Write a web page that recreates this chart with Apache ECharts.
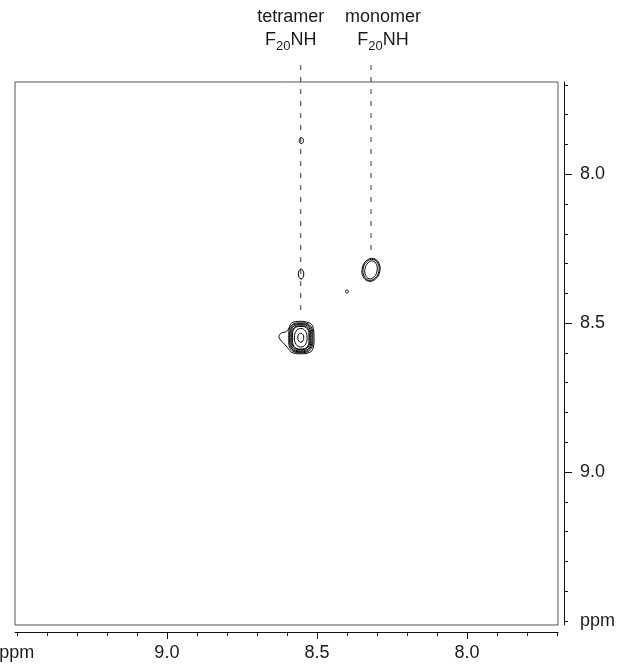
<!DOCTYPE html>
<html>
<head>
<meta charset="utf-8">
<script src="https://cdn.jsdelivr.net/npm/echarts@6/dist/echarts.min.js"></script>
<style>
  html, body { margin: 0; padding: 0; background: #fff; }
  #chart { width: 625px; height: 668px; }
</style>
</head>
<body>
<div id="chart"></div>
<script>
// Axis ranges (ppm); both axes run downfield-to-upfield
const xRange = [7.697, 9.506];
const yRange = [7.690, 9.514];

// Tick positions (ppm)
const majorTicks = [8.0, 8.5, 9.0];
const minorTicks = [7.7, 7.8, 7.9, 8.0, 8.1, 8.2, 8.3, 8.4, 8.5, 8.6, 8.7, 8.8, 8.9, 9.0, 9.1, 9.2, 9.3, 9.4, 9.5];
const tickLabels = [8.0, 8.5, 9.0, 9.5];
const unitTick = 9.5;
const unitText = 'ppm';

// Contour rings of the tetramer cross peak, outermost first: [F2 ppm, F1 ppm]
const tetramerRings = [
  [[8.585, 8.500], [8.557, 8.494], [8.530, 8.498], [8.515, 8.509], [8.510, 8.545], [8.513, 8.584],
   [8.524, 8.598], [8.557, 8.603], [8.585, 8.598], [8.593, 8.589], [8.607, 8.572], [8.624, 8.553],
   [8.626, 8.542], [8.618, 8.533], [8.602, 8.528], [8.593, 8.516]],
  [[8.514, 8.549], [8.522, 8.589], [8.554, 8.599], [8.586, 8.589], [8.594, 8.549], [8.586, 8.509], [8.554, 8.499], [8.522, 8.509]],
  [[8.517, 8.549], [8.525, 8.587], [8.554, 8.596], [8.583, 8.587], [8.591, 8.549], [8.583, 8.511], [8.554, 8.502], [8.525, 8.511]],
  [[8.521, 8.549], [8.527, 8.584], [8.554, 8.593], [8.581, 8.584], [8.587, 8.549], [8.581, 8.514], [8.554, 8.505], [8.527, 8.514]],
  [[8.524, 8.549], [8.530, 8.581], [8.554, 8.589], [8.578, 8.581], [8.584, 8.549], [8.578, 8.517], [8.554, 8.509], [8.530, 8.517]],
  [[8.527, 8.549], [8.532, 8.579], [8.554, 8.587], [8.576, 8.579], [8.581, 8.549], [8.576, 8.519], [8.554, 8.511], [8.532, 8.519]],
  [[8.533, 8.549], [8.539, 8.572], [8.554, 8.580], [8.569, 8.572], [8.575, 8.549], [8.569, 8.526], [8.554, 8.518], [8.539, 8.526]],
  [[8.544, 8.549], [8.547, 8.560], [8.554, 8.564], [8.561, 8.560], [8.564, 8.549], [8.561, 8.538], [8.554, 8.534], [8.547, 8.538]]
];

// Contour rings of the monomer cross peak
const monomerRings = [
  [[8.291, 8.327], [8.305, 8.352], [8.328, 8.359], [8.346, 8.344], [8.349, 8.315], [8.335, 8.290], [8.312, 8.283], [8.294, 8.298]],
  [[8.294, 8.3265], [8.307, 8.349], [8.3275, 8.356], [8.343, 8.342], [8.346, 8.3155], [8.333, 8.293], [8.3125, 8.286], [8.297, 8.300]],
  [[8.300, 8.325], [8.3106, 8.345], [8.326, 8.351], [8.338, 8.339], [8.340, 8.317], [8.3294, 8.297], [8.314, 8.291], [8.302, 8.303]]
];

// Weak cross peaks
const weakPeakRings = [
  [[8.545, 7.887], [8.547, 7.894], [8.552, 7.897], [8.557, 7.894], [8.559, 7.887], [8.557, 7.880], [8.552, 7.877], [8.547, 7.880]],
  [[8.544, 8.335], [8.547, 8.347], [8.553, 8.352], [8.559, 8.347], [8.562, 8.335], [8.559, 8.323], [8.553, 8.318], [8.547, 8.323]],
  [[8.395, 8.394], [8.3965, 8.3975], [8.400, 8.399], [8.4035, 8.3975], [8.405, 8.394], [8.4035, 8.3905], [8.400, 8.389], [8.3965, 8.3905]]
];

// Assignment guides: F2 position, upper end (above the frame) and lower end
const guideX = [8.554, 8.320];
const guideTop = 7.633;
const guideBottom = [8.478, 8.262];
const guideNames = ['tetramer', 'monomer'];

const allRings = [].concat(tetramerRings, monomerRings, weakPeakRings);

const TEXT = '#1a1a1a';
const FONT = 'Liberation Sans, Arial, Helvetica, sans-serif';

function fmtTick(v) {
  return Math.abs(v - unitTick) < 1e-6 ? unitText : v.toFixed(1);
}

function renderRing(params, api) {
  const ring = allRings[params.dataIndex];
  const pts = ring.map(function (p) { return api.coord(p); });
  return {
    type: 'polygon',
    shape: { points: pts, smooth: 0.45 },
    style: { fill: 'none', stroke: '#000', lineWidth: 1 }
  };
}

const labelOffsets = [[-10, -14], [12, -14]];

const guideSeries = guideX.map(function (x, i) {
  return {
    type: 'line',
    xAxisIndex: 0,
    yAxisIndex: 0,
    clip: false,
    silent: true,
    symbol: 'circle',
    symbolSize: 0,
    showSymbol: true,
    lineStyle: { color: '#333', width: 1, type: [5, 7] },
    data: [
      {
        value: [x, guideTop],
        label: {
          show: true,
          position: 'top',
          distance: 0,
          offset: labelOffsets[i],
          align: 'center',
          formatter: '{n|' + guideNames[i] + '}\n{n|F}{s|20}{n|NH}',
          rich: {
            n: { fontSize: 18, lineHeight: 23, color: TEXT, fontFamily: FONT },
            s: { fontSize: 13, padding: [10, 0, -4, 0], color: TEXT, fontFamily: FONT }
          }
        }
      },
      [x, guideBottom[i]]
    ]
  };
});

const axisLineStyle = { color: '#111', width: 1 };

const chart = echarts.init(document.getElementById('chart'), null, { renderer: 'canvas' });
chart.setOption({
  animation: false,
  backgroundColor: '#fff',
  grid: {
    left: 15, right: 67, top: 82, bottom: 43,
    containLabel: false,
    outerBoundsMode: 'none',
    show: true, borderColor: '#555', borderWidth: 1, backgroundColor: 'transparent'
  },
  xAxis: [
    {
      type: 'value', min: xRange[0], max: xRange[1], inverse: true,
      position: 'bottom', offset: 7,
      axisLine: { show: true, onZero: false, lineStyle: axisLineStyle },
      axisTick: { show: true, customValues: majorTicks, length: 7, lineStyle: axisLineStyle },
      axisLabel: { customValues: tickLabels, formatter: fmtTick, margin: 12, fontSize: 18, color: TEXT, fontFamily: FONT },
      splitLine: { show: false }
    },
    {
      type: 'value', min: xRange[0], max: xRange[1], inverse: true,
      position: 'bottom', offset: 7,
      axisLine: { show: false, onZero: false },
      axisTick: { show: true, customValues: minorTicks, length: 4, lineStyle: axisLineStyle },
      axisLabel: { show: false },
      splitLine: { show: false }
    }
  ],
  yAxis: [
    {
      type: 'value', min: yRange[0], max: yRange[1], inverse: true,
      position: 'right', offset: 6,
      axisLine: { show: true, onZero: false, lineStyle: axisLineStyle },
      axisTick: { show: true, customValues: majorTicks, length: 8, lineStyle: axisLineStyle },
      axisLabel: { customValues: tickLabels, formatter: fmtTick, margin: 16, fontSize: 18, color: TEXT, fontFamily: FONT },
      splitLine: { show: false }
    },
    {
      type: 'value', min: yRange[0], max: yRange[1], inverse: true,
      position: 'right', offset: 6,
      axisLine: { show: false, onZero: false },
      axisTick: { show: true, customValues: minorTicks, length: 4, lineStyle: axisLineStyle },
      axisLabel: { show: false },
      splitLine: { show: false }
    }
  ],
  series: [
    {
      type: 'custom',
      xAxisIndex: 0,
      yAxisIndex: 0,
      silent: true,
      clip: false,
      renderItem: renderRing,
      data: allRings.map(function (r) { return [r[0][0], r[0][1]]; })
    }
  ].concat(guideSeries)
});
</script>
</body>
</html>
